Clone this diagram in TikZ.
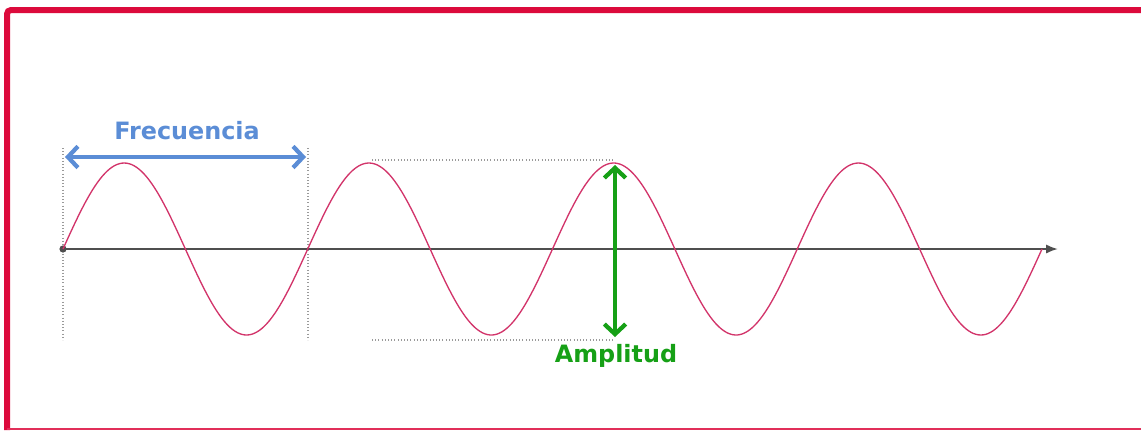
\documentclass[tikz,border=0pt]{standalone}
\usepackage{fontspec}
\setmainfont{DejaVu Sans}
\usetikzlibrary{arrows.meta}
\definecolor{framered}{HTML}{DC0A3C}
\definecolor{waveC}{HTML}{D2346A}
\definecolor{axisC}{HTML}{4F4F4F}
\definecolor{freqC}{HTML}{5B8DD6}
\definecolor{ampC}{HTML}{16A016}
\definecolor{dotC}{HTML}{9A9A9A}
\tikzset{
  guide/.style={draw=dotC, line width=0.9pt, dash pattern=on 0.8pt off 1.6pt},
  lbl/.style={font=\bfseries\fontsize{17.9pt}{20pt}\selectfont, inner sep=0pt},
  dblarrow/.style={line width=3pt, {Straight Barb[length=7.5pt,width=16pt,line width=3.2pt]}-{Straight Barb[length=7.5pt,width=16pt,line width=3.2pt]}}
}
\begin{document}
\begin{tikzpicture}[x=0.75pt,y=-0.75pt]
\useasboundingbox (0,0) rectangle (1141,430);
% frame
\draw[framered, line width=4.5pt, rounded corners=3pt] (1141,10) -- (7,10) -- (7,430);
\draw[framered!85, line width=1.4pt] (7,428.7) -- (1141,428.7);
% guides
\coordinate (g1a) at (63,148); \coordinate (g1b) at (63,340);
\coordinate (g2a) at (308,148); \coordinate (g2b) at (308,340);
\coordinate (h1a) at (372,160); \coordinate (h1b) at (615,160);
\coordinate (h2a) at (372,340); \coordinate (h2b) at (615,340);
\draw[guide] (g1a) -- (g1b);
\draw[guide] (g2a) -- (g2b);
\draw[guide] (h1a) -- (h1b);
\draw[guide] (h2a) -- (h2b);
% axis
\coordinate (o) at (63,249);
\coordinate (xend) at (1058,249);
\draw[axisC, line width=1.6pt, -{Latex[length=9pt,width=7pt]}] (o) -- (xend);
\fill[axisC] (o) circle (3.6);
% wave
\draw[waveC, line width=1pt] plot[domain=0:1440, samples=400, smooth] ({63+\x*0.679861}, {249-86*sin(\x)});
% frequency
\coordinate (fa) at (65,157);
\coordinate (fb) at (306,157);
\draw[freqC, dblarrow] (fa) -- (fb);
\node[lbl, text=freqC] (freq) at (187,131) {Frecuencia};
% amplitude
\coordinate (aa) at (615,165);
\coordinate (ab) at (615,337);
\draw[ampC, dblarrow] (aa) -- (ab);
\node[lbl, text=ampC] (amp) at (616,356) {Amplitud};
\end{tikzpicture}
\end{document}
